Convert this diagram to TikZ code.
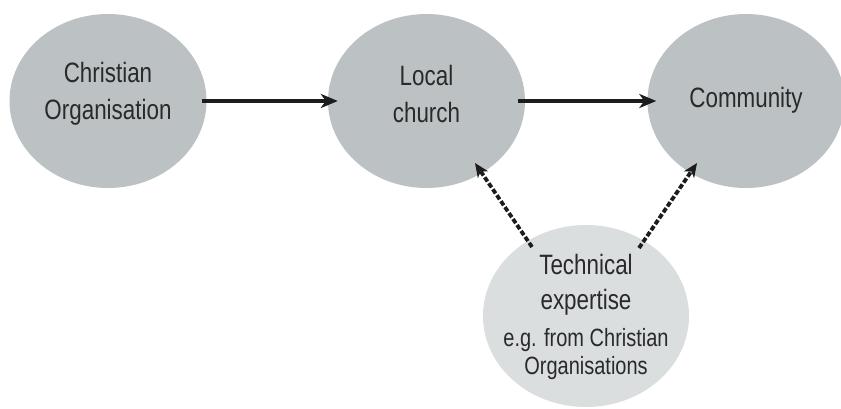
\documentclass[tikz,border=0pt]{standalone}
\usepackage{fontspec}
\setmainfont[FakeStretch=0.8]{Liberation Sans}
\usetikzlibrary{arrows.meta,shapes.geometric}
\definecolor{ovdark}{HTML}{BCC2C3}
\definecolor{ovlight}{HTML}{DADEDF}
\definecolor{txtgrey}{HTML}{2A2A2A}
\definecolor{linedark}{HTML}{1C1C1C}
\begin{document}
\begin{tikzpicture}[x=1pt,y=1pt,
  blob/.style={ellipse, fill=ovdark, draw=none, inner sep=0pt,
    minimum width=197pt, minimum height=174pt},
  lighterblob/.style={blob, fill=ovlight, minimum width=206pt, minimum height=182pt},
  txt/.style={text=txtgrey, align=center, font=\fontsize{28}{37}\selectfont, inner sep=0pt},
  flow/.style={draw=linedark, line width=4.5pt,
    -{Stealth[length=17pt,width=14pt,inset=5pt]}},
  support/.style={draw=linedark, line width=3.8pt, dash pattern=on 5pt off 2.2pt,
    -{Stealth[length=14pt,width=12pt,inset=4pt]}}]
\useasboundingbox (0,0) rectangle (841,408);
% ellipses (pixel coordinates, y measured upward)
\node[blob, label={[txt, yshift=6.8pt]center:Christian\\Organisation}] (co) at (108,307) {};
\node[blob, label={[txt, yshift=7.2pt]center:Local\\church}] (lc) at (426.5,307) {};
\node[blob, label={[txt, yshift=1.2pt]center:Community}] (cm) at (746,307) {};
\node[lighterblob, label={[txt, yshift=-1.4pt]center:Technical\\[-2pt]expertise\\{\fontsize{25}{30}\selectfont e.g. from Christian}\\[-9pt]{\fontsize{25}{30}\selectfont Organisations}}] (te) at (586,92) {};
% connectors
\draw[flow] ([xshift=-5pt]co.east) -- ([xshift=10pt]lc.west);
\draw[flow] ([xshift=-7pt]lc.east) -- ([xshift=9pt]cm.west);
\draw[support] ([shift={(-54pt,69pt)}]te.center) -- ([shift={(48.5pt,-62pt)}]lc.center);
\draw[support] ([shift={(53pt,68pt)}]te.center) -- ([shift={(-49pt,-62pt)}]cm.center);
\end{tikzpicture}
\end{document}
